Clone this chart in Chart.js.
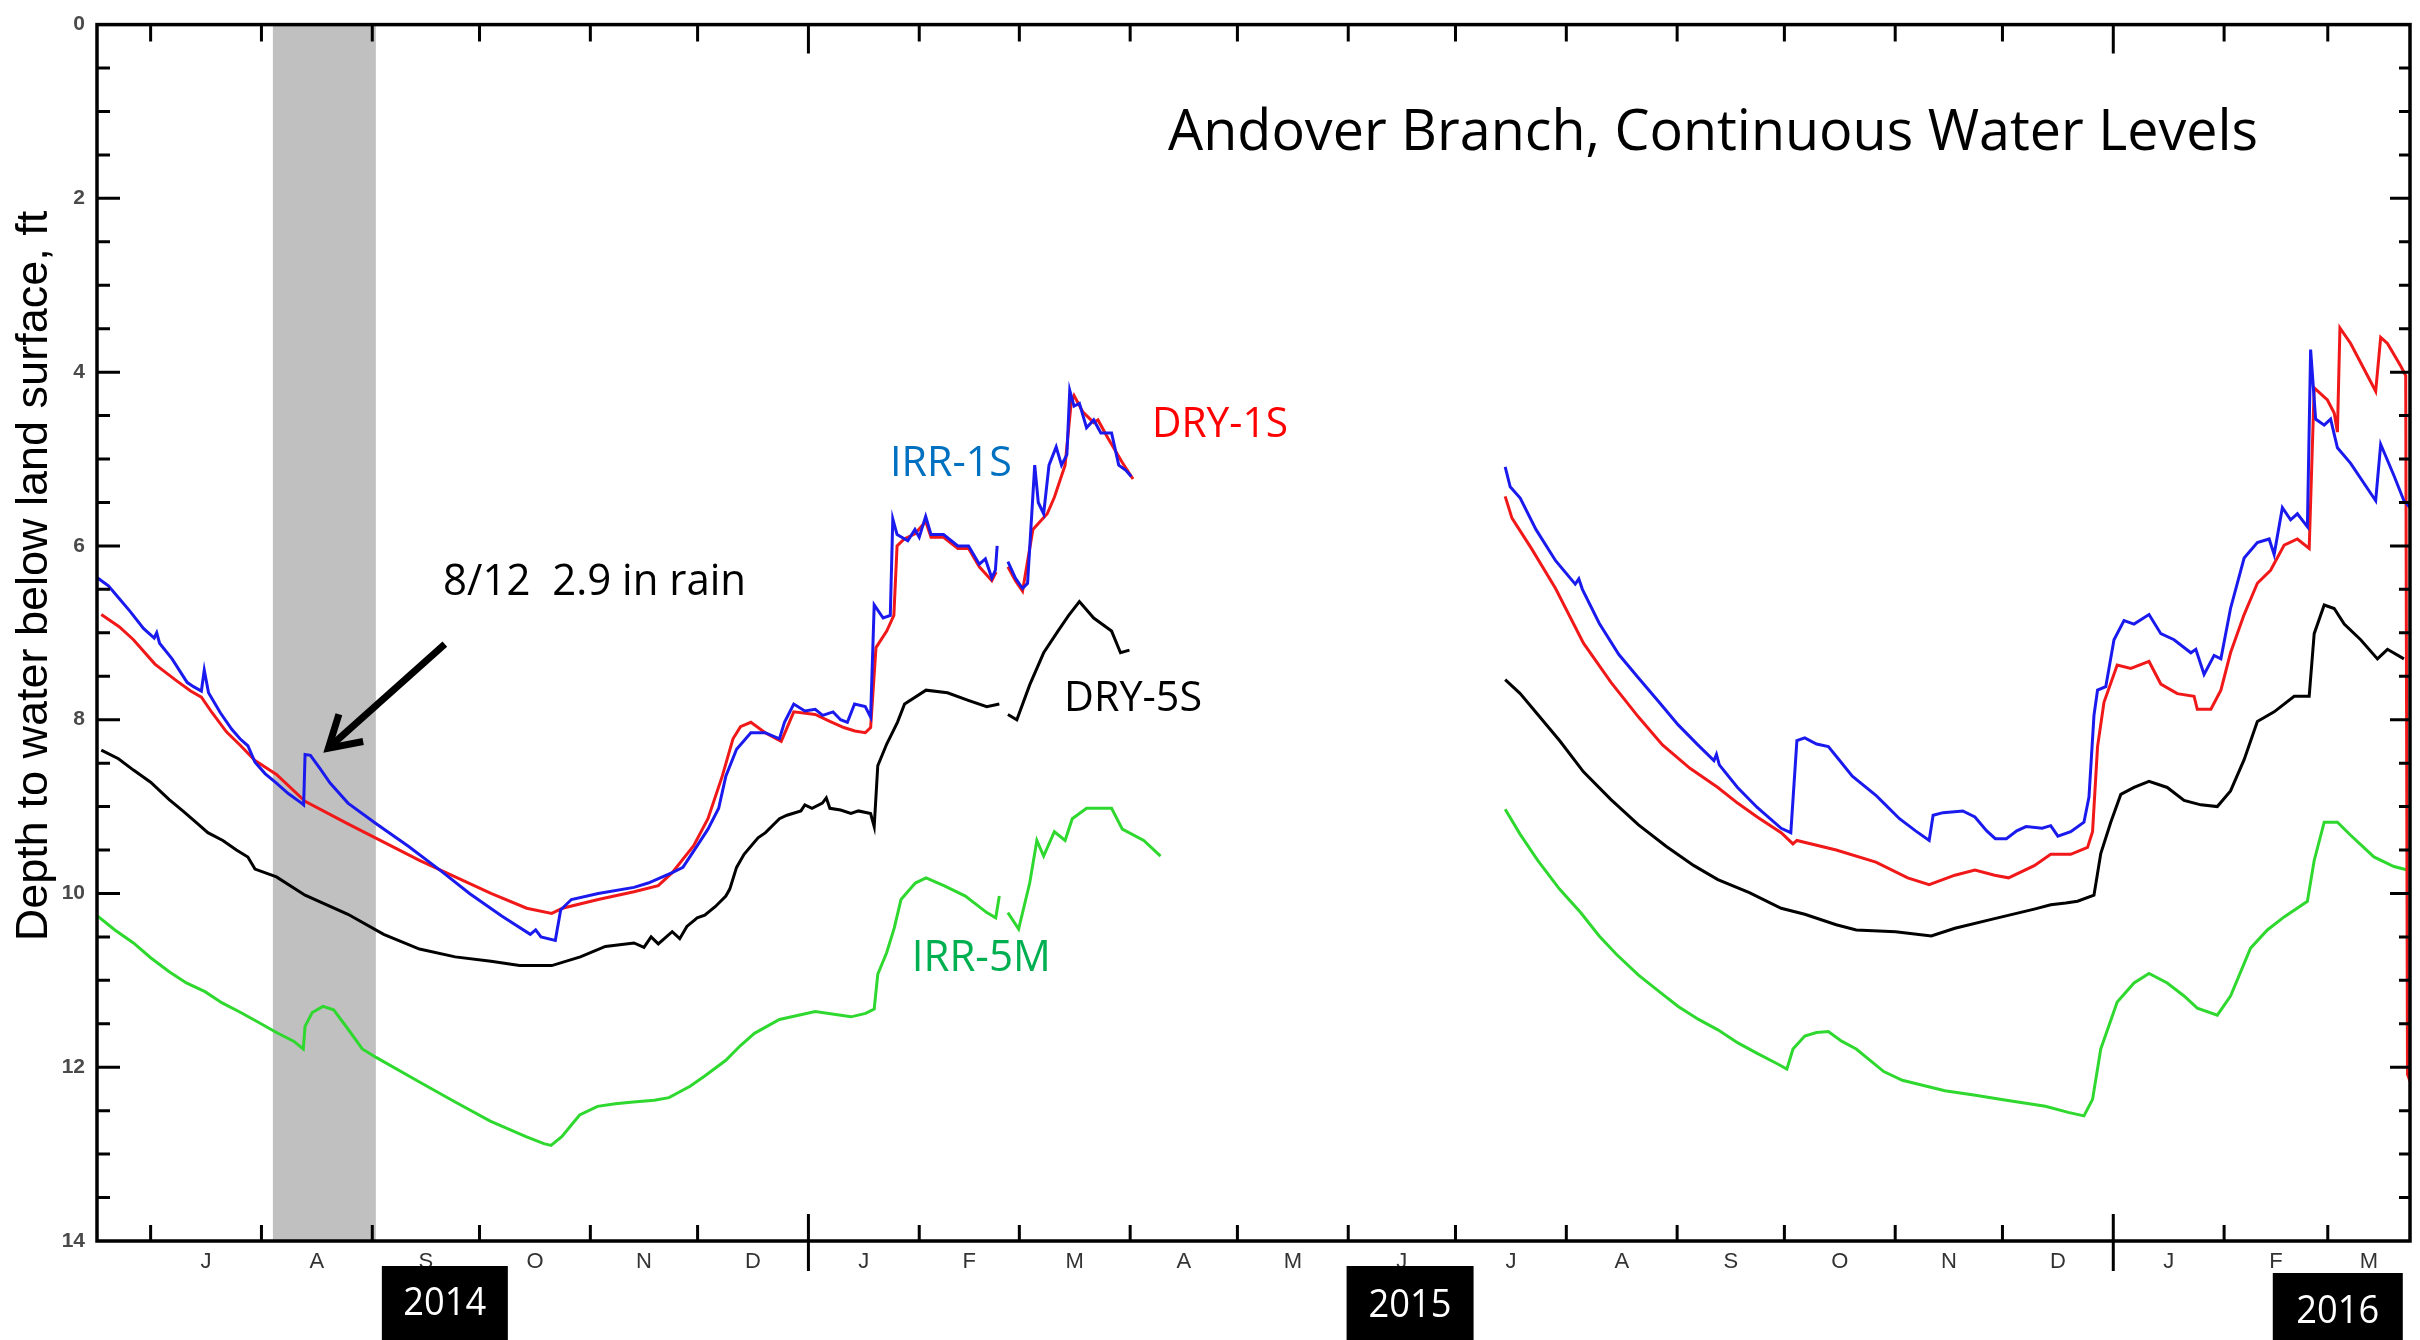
<!DOCTYPE html>
<html>
<head>
<meta charset="utf-8">
<title>Andover Branch, Continuous Water Levels</title>
<script src="https://cdn.jsdelivr.net/npm/chart.js@4.4.1/dist/chart.umd.min.js"></script>
<style>
  html, body { margin: 0; padding: 0; background: #fff; }
  canvas { display: block; }
</style>
</head>
<body>
<canvas id="kaavio" width="2420" height="1340"></canvas>
<script>
// x = days after 1 July 2014, y = depth to water (ft)

const monthStart = [0, 31, 62, 92, 123, 153, 184, 215, 243, 274, 304, 335, 365, 396, 427, 457, 488, 518, 549, 580, 609];
const yearStart = [184, 549];
const monthMid = [15.5, 46.5, 77, 107.5, 138, 168.5, 199.5, 229, 258.5, 289, 319.5, 350, 380.5, 411.5, 442, 472.5, 503, 533.5, 564.5, 594.5, 620.5];
const monthLetters = ['J', 'A', 'S', 'O', 'N', 'D', 'J', 'F', 'M', 'A', 'M', 'J', 'J', 'A', 'S', 'O', 'N', 'D', 'J', 'F', 'M'];
const yearLabels = ['2014', '2015', '2016'];
const rainBand = [34.2, 63.0];

// IRR-1S
const irr1sDay = [-14.8, -11.8, -8.5, -5.8, -2, 1, 1.7, 2.5, 6, 10.2, 12, 14.2, 15, 16.2, 19.5, 22.7, 25, 27.2, 29.2, 32, 35.2, 38.5, 42.2, 42.8, 43.2, 44.7, 47.5, 50.2, 55.2, 63.2, 72.2, 81.2, 89.2, 98.2, 106.2, 107.7, 109.2, 113.2, 114.7, 117.7, 125.2, 135.2, 139.2, 145.9, 148.9, 152.9, 155.9, 158.9, 160.9, 163.9, 167.9, 171.9, 175.9, 177.3, 179.9, 183, 185.9, 188, 190.9, 193, 194.9, 196.9, 199.9, 201.4, 202.4, 204.9, 206.9, 207.6, 208.8, 211.8, 213.8, 215, 216.8, 218.3, 221.8, 225.8, 228.8, 231.8, 233.5, 235.3, 236.3, 236.8, 238, 239.8, 241.9, 243.9, 245.3, 247.3, 248.3, 249.8, 251.3, 253.3, 254.8, 256.3, 257.1, 258.3, 259.8, 261.8, 263.8, 265.8, 268.8, 270.8, 272.8, 274.3,
  320,
  378.9, 380.3, 383.1, 387.5, 393, 398.5, 399.5, 400.5, 405.2, 410.7, 416.2, 421.8, 427.3, 432.8, 437.3, 438, 438.8, 443.9, 449.4, 456.1, 458.8, 460.5, 462.7, 466, 469.3, 471.5, 476, 482.6, 484.8, 489.2, 493.7, 497.5, 498.6, 501.4, 506.9, 510.3, 513.6, 516, 519.1, 522, 524.6, 529.1, 531.5, 533.5, 537.1, 540.8, 542.2, 543.6, 544.6, 546.9, 549.2, 552, 554.8, 559, 562.3, 566, 570.7, 572.1, 574.4, 577.2, 579.1, 581.8, 585.6, 589.3, 592.6, 594, 596.3, 598.6, 600.5, 603.3, 604.2, 605.6, 608, 609.8, 611.7, 615.4, 622.4, 623.8, 627.5, 630.3, 632.7];
const irr1sFt = [6.37, 6.46, 6.62, 6.75, 6.95, 7.06, 7.0, 7.12, 7.30, 7.57, 7.62, 7.67, 7.43, 7.69, 7.92, 8.11, 8.22, 8.30, 8.49, 8.62, 8.73, 8.85, 8.96, 8.98, 8.40, 8.41, 8.57, 8.73, 8.96, 9.20, 9.46, 9.74, 10.0, 10.26, 10.47, 10.42, 10.50, 10.54, 10.19, 10.07, 10.0, 9.93, 9.88, 9.76, 9.70, 9.45, 9.26, 9.02, 8.65, 8.34, 8.15, 8.15, 8.22, 8.03, 7.82, 7.90, 7.88, 7.95, 7.91, 8.0, 8.03, 7.82, 7.85, 7.97, 6.68, 6.83, 6.80, 5.69, 5.87, 5.94, 5.81, 5.90, 5.66, 5.87, 5.87, 6.0, 6.0, 6.21, 6.15, 6.37, 6.28, 6.0, null, 6.18, 6.37, 6.49, 6.43, 5.07, 5.50, 5.63, 5.07, 4.86, 5.07, 4.95, 4.21, 4.39, 4.36, 4.64, 4.55, 4.70, 4.70, 5.07, 5.13, 5.20,
  null,
  5.09, 5.32, 5.45, 5.81, 6.17, 6.44, 6.38, 6.50, 6.89, 7.25, 7.52, 7.79, 8.06, 8.29, 8.47, 8.40, 8.52, 8.78, 9.01, 9.25, 9.30, 8.24, 8.21, 8.28, 8.31, 8.42, 8.65, 8.87, 8.96, 9.14, 9.28, 9.39, 9.10, 9.07, 9.05, 9.12, 9.28, 9.37, 9.37, 9.28, 9.23, 9.25, 9.22, 9.34, 9.29, 9.18, 8.89, 7.95, 7.66, 7.62, 7.08, 6.86, 6.90, 6.79, 7.01, 7.08, 7.23, 7.19, 7.48, 7.26, 7.30, 6.72, 6.14, 5.96, 5.92, 6.10, 5.56, 5.70, 5.63, 5.78, 3.74, 4.54, 4.61, 4.54, 4.87, 5.05, 5.48, 4.83, 5.19, 5.48, 5.59];

// DRY-1S
const dry1sDay = [-13.8, -8.8, -4.8, 1.2, 4, 7.2, 11.2, 14.2, 17.2, 21.2, 25.2, 29.2, 35.2, 43.2, 55.2, 65.2, 75.2, 85.2, 95.2, 105.2, 112.2, 115.2, 125.2, 135.2, 142, 145.9, 151.9, 155.9, 159.9, 162.9, 165, 167.9, 171.9, 176.4, 179.9, 185.9, 190, 193.9, 197, 199.9, 201.4, 202.9, 205.9, 207.9, 208.8, 210.8, 213.8, 216.8, 218.3, 221.8, 225.8, 228.8, 231.8, 235.3, 236.5, 238, 239.8, 241.9, 243.9, 246.8, 250.8, 252.8, 255.8, 257.5, 258.3, 260.8, 263.8, 265, 267.8, 271.8, 274.8,
  320,
  378.9, 380.8, 386.4, 393, 400.8, 408.5, 416.2, 422.9, 430.6, 438.4, 443.9, 449.4, 456.1, 459.4, 460.5, 471.5, 482.6, 491.5, 497.5, 504.7, 510.3, 515.8, 519.7, 526.9, 531.5, 537.1, 541.8, 543.2, 544.6, 546.4, 550.1, 553.9, 559, 562.3, 566.9, 571.6, 572.5, 576.3, 579.1, 581.8, 585.6, 589.3, 593, 596.8, 600.5, 603.8, 605.2, 608.9, 610.8, 611.7, 612.4, 615.4, 622.4, 623.8, 625.7, 629.4, 630.8, 631.3, 632];
const dry1sFt = [6.79, 6.93, 7.08, 7.36, 7.45, 7.55, 7.67, 7.74, 7.92, 8.14, 8.30, 8.47, 8.63, 8.94, 9.20, 9.41, 9.62, 9.81, 10.0, 10.17, 10.23, 10.17, 10.07, 9.98, 9.91, 9.76, 9.45, 9.14, 8.65, 8.22, 8.08, 8.03, 8.15, 8.25, 7.91, 7.94, 8.02, 8.09, 8.13, 8.15, 8.09, 7.17, 6.98, 6.80, 6.0, 5.92, 5.86, 5.72, 5.90, 5.90, 6.03, 6.03, 6.24, 6.40, 6.30, null, 6.24, 6.40, 6.52, 5.81, 5.63, 5.44, 5.07, 4.35, 4.27, 4.46, 4.58, 4.55, 4.76, 5.04, 5.23,
  null,
  5.43, 5.68, 6.04, 6.49, 7.12, 7.57, 7.97, 8.29, 8.56, 8.78, 8.96, 9.12, 9.30, 9.43, 9.39, 9.50, 9.64, 9.82, 9.90, 9.79, 9.73, 9.79, 9.82, 9.68, 9.55, 9.55, 9.47, 9.29, 8.31, 7.80, 7.37, 7.41, 7.33, 7.59, 7.70, 7.73, 7.88, 7.88, 7.66, 7.23, 6.79, 6.43, 6.28, 5.99, 5.92, 6.03, 4.18, 4.32, 4.47, 4.69, 3.49, 3.67, 4.22, 3.60, 3.67, 3.93, 4.04, 12.08, 12.16];

// DRY-5S
const dry5sDay = [-13.8, -9, -4.8, 0, 5.2, 9, 13.2, 16, 20.2, 24, 27.2, 29.2, 35.2, 43.2, 55.2, 65.2, 75.2, 85.2, 95.2, 103.2, 112.2, 120.2, 127.2, 135.2, 138, 140, 142, 145.9, 148, 150, 152.9, 155, 158, 160.9, 162, 163.9, 166, 169.9, 172, 175.9, 178, 181.9, 183, 185, 187.9, 189, 190, 193, 195.9, 198, 201.4, 202.4, 203.4, 205.9, 208.9, 210.9, 216.9, 222.9, 228.9, 233.9, 237.4, 238.5, 239.8, 242.3, 245.9, 249.8, 253.8, 256.8, 259.8, 263.8, 268.8, 271.3, 273.8,
  320,
  378.9, 383.1, 388.6, 394.1, 400.8, 408.5, 416.2, 424, 431.7, 438.4, 447.2, 456.1, 462.7, 471.5, 477.1, 488.1, 498.1, 504.7, 515.8, 526.9, 531.5, 535.7, 539, 543.6, 545.5, 548.3, 551.1, 554.8, 559, 564.1, 568.8, 573.5, 578.1, 581.8, 585.6, 589.3, 594, 599.6, 603.8, 605.2, 608, 610.8, 613.6, 618.2, 622.9, 625.7, 630.3];
const dry5sFt = [8.35, 8.45, 8.58, 8.72, 8.92, 9.05, 9.20, 9.30, 9.39, 9.50, 9.58, 9.72, 9.81, 10.02, 10.24, 10.47, 10.64, 10.73, 10.78, 10.83, 10.83, 10.73, 10.61, 10.57, 10.62, 10.50, 10.58, 10.44, 10.52, 10.38, 10.28, 10.25, 10.15, 10.03, 9.95, 9.70, 9.55, 9.36, 9.30, 9.14, 9.10, 9.05, 8.98, 9.02, 8.96, 8.90, 9.02, 9.04, 9.08, 9.05, 9.08, 9.23, 8.53, 8.28, 8.03, 7.82, 7.66, 7.69, 7.78, 7.85, 7.82, null, 7.94, 8.0, 7.60, 7.23, 6.98, 6.80, 6.64, 6.83, 6.98, 7.23, 7.20,
  null,
  7.54, 7.70, 7.97, 8.24, 8.60, 8.92, 9.21, 9.46, 9.68, 9.84, 9.99, 10.17, 10.24, 10.36, 10.42, 10.44, 10.49, 10.40, 10.29, 10.18, 10.13, 10.11, 10.09, 10.02, 9.54, 9.18, 8.86, 8.78, 8.71, 8.78, 8.93, 8.98, 9.0, 8.82, 8.46, 8.02, 7.91, 7.73, 7.73, 7.01, 6.68, 6.72, 6.90, 7.08, 7.30, 7.19, 7.30];

// IRR-5M
const irr5mDay = [-14.8, -10, -4.8, 0, 5.2, 10, 15.2, 20, 25.2, 30, 35.2, 40, 42.7, 43.2, 45.2, 48.2, 51.2, 55.2, 59.2, 63.2, 75.2, 85.2, 95, 105, 110, 112, 115, 120, 125, 130, 135, 140.9, 145, 150.9, 155, 160.9, 165, 168.9, 175.9, 185.9, 195.9, 200, 202.4, 203.4, 205.9, 208, 209.9, 213.9, 216.9, 221.9, 227.9, 233.9, 236.4, 237.4, 238.5, 239.8, 242.8, 245.9, 247.9, 249.8, 252.8, 255.8, 257.8, 261.8, 264.8, 268.8, 271.8, 277.8, 282.5,
  320,
  378.9, 383.1, 388, 394.1, 400, 405.2, 410, 416.2, 422, 427.3, 433, 438.4, 444, 449.4, 455, 457.7, 459.4, 462.7, 466, 469.3, 473, 477.1, 484.8, 490, 501.9, 510, 519.1, 530, 536.4, 540.8, 543.2, 545.5, 550.1, 554.8, 559, 564.1, 568.8, 572.5, 578.1, 581.8, 587.4, 592.1, 596.8, 603.3, 605.2, 608, 611.7, 615.4, 621.9, 627.5, 631.3];
const irr5mFt = [10.26, 10.42, 10.57, 10.74, 10.90, 11.03, 11.13, 11.26, 11.37, 11.48, 11.60, 11.70, 11.79, 11.53, 11.37, 11.30, 11.34, 11.56, 11.79, 11.89, 12.17, 12.40, 12.62, 12.80, 12.88, 12.90, 12.80, 12.55, 12.45, 12.42, 12.40, 12.38, 12.35, 12.22, 12.10, 11.92, 11.75, 11.61, 11.45, 11.36, 11.42, 11.38, 11.33, 10.93, 10.68, 10.40, 10.07, 9.88, 9.82, 9.91, 10.03, 10.22, 10.28, 10.03, null, 10.22, 10.41, 9.88, 9.39, 9.57, 9.29, 9.39, 9.14, 9.02, 9.02, 9.02, 9.26, 9.39, 9.57,
  null,
  9.03, 9.32, 9.62, 9.95, 10.22, 10.49, 10.70, 10.94, 11.13, 11.30, 11.45, 11.57, 11.72, 11.84, 11.96, 12.02, 11.79, 11.64, 11.60, 11.59, 11.70, 11.79, 12.05, 12.15, 12.27, 12.32, 12.38, 12.45, 12.52, 12.56, 12.37, 11.79, 11.25, 11.03, 10.92, 11.03, 11.18, 11.32, 11.40, 11.18, 10.63, 10.42, 10.27, 10.09, 9.62, 9.18, 9.18, 9.33, 9.58, 9.69, 9.73];

function pisteet(paivat, arvot) {
  return paivat.map((d, i) => ({ x: d, y: arvot[i] }));
}

// teksti venytetään annettuun leveyteen (Calibri puuttuu)
function sovitaTeksti(ctx, teksti, x, y, leveys, korkeus, vari, tasaus) {
  const koko = korkeus / 0.714;
  ctx.save();
  ctx.font = koko + 'px "Open Sans"';
  ctx.fillStyle = vari;
  ctx.textBaseline = 'alphabetic';
  ctx.textAlign = 'left';
  const w = ctx.measureText(teksti).width;
  const sx = leveys / w;
  const x0 = tasaus === 'center' ? x - leveys / 2 : x;
  ctx.translate(x0, y);
  ctx.scale(sx, 1);
  ctx.fillText(teksti, 0, 0);
  ctx.restore();
}

const koristeet = {
  id: 'koristeet',
  beforeDatasetsDraw(chart) {
    const { ctx, chartArea: a, scales: { x } } = chart;
    const x0 = x.getPixelForValue(rainBand[0]);
    const x1 = x.getPixelForValue(rainBand[1]);
    ctx.save();
    ctx.fillStyle = '#c0c0c0';
    ctx.fillRect(x0, a.top, x1 - x0, a.bottom - a.top);
    ctx.restore();
  },
  afterDatasetsDraw(chart) {
    const { ctx, chartArea: a, scales: { x, y } } = chart;
    ctx.save();
    ctx.strokeStyle = '#000';
    ctx.lineWidth = 3;
    ctx.beginPath();
    for (let v = 0.5; v < 14; v += 0.5) {
      const py = y.getPixelForValue(v);
      const iso = v % 2 === 0;
      ctx.moveTo(a.left, py); ctx.lineTo(a.left + (iso ? 23 : 13), py);
      ctx.moveTo(a.right, py); ctx.lineTo(a.right - (iso ? 20 : 11), py);
    }
    monthStart.forEach(d => {
      const px = x.getPixelForValue(d);
      const vuosi = yearStart.includes(d);
      ctx.moveTo(px, a.bottom + (vuosi ? 30 : 0)); ctx.lineTo(px, a.bottom - (vuosi ? 27 : 16));
      ctx.moveTo(px, a.top); ctx.lineTo(px, a.top + (vuosi ? 29 : 17));
    });
    ctx.stroke();
    ctx.lineWidth = 3.5;
    ctx.strokeRect(a.left, a.top, a.right - a.left, a.bottom - a.top);

    // nuoli sadetapahtumaan
    const tx = x.getPixelForValue(82.3), ty = y.getPixelForValue(7.13);
    const kx = x.getPixelForValue(49.1), ky = y.getPixelForValue(8.35);
    const kulma = Math.atan2(ty - ky, tx - kx);
    ctx.lineWidth = 7;
    ctx.lineCap = 'butt';
    ctx.beginPath();
    ctx.moveTo(tx, ty); ctx.lineTo(kx + 4 * Math.cos(kulma), ky + 4 * Math.sin(kulma));
    ctx.stroke();
    ctx.lineJoin = 'miter';
    ctx.beginPath();
    ctx.moveTo(kx + 38 * Math.cos(kulma - 0.5), ky + 38 * Math.sin(kulma - 0.5));
    ctx.lineTo(kx + 3 * Math.cos(kulma), ky + 3 * Math.sin(kulma));
    ctx.lineTo(kx + 38 * Math.cos(kulma + 0.5), ky + 38 * Math.sin(kulma + 0.5));
    ctx.stroke();
    ctx.restore();

    sovitaTeksti(ctx, 'Andover Branch, Continuous Water Levels', x.getPixelForValue(284.6), y.getPixelForValue(1.444), 1090, 40, '#000');
    sovitaTeksti(ctx, 'IRR-1S', x.getPixelForValue(206.8), y.getPixelForValue(5.197), 122, 30, '#0070c0');
    sovitaTeksti(ctx, 'DRY-1S', x.getPixelForValue(280.1), y.getPixelForValue(4.742), 136, 30, '#ff0000');
    sovitaTeksti(ctx, 'DRY-5S', x.getPixelForValue(255.5), y.getPixelForValue(7.904), 138, 30, '#000');
    sovitaTeksti(ctx, 'IRR-5M', x.getPixelForValue(212.9), y.getPixelForValue(10.895), 139, 31, '#00b050');
    sovitaTeksti(ctx, '8/12  2.9 in rain', x.getPixelForValue(81.8), y.getPixelForValue(6.562), 303, 31, '#000');
  },
  afterDraw(chart) {
    const { ctx, scales: { x } } = chart;
    // pystyakselin otsikko
    ctx.save();
    ctx.translate(47, 576);
    ctx.rotate(-Math.PI / 2);
    ctx.font = '45px "Liberation Sans", Arial, sans-serif';
    ctx.fillStyle = '#000';
    ctx.textAlign = 'center';
    ctx.textBaseline = 'alphabetic';
    ctx.fillText('Depth to water below land surface, ft', 0, 0);
    ctx.restore();

    // vuosilaatikot
    const laatikot = [
      { keski: 82.3, yla: 1266, lev: 126, pohja: 1315 },
      { keski: 352.3, yla: 1266, lev: 127, pohja: 1317 },
      { keski: 611.8, yla: 1273, lev: 130, pohja: 1323 }
    ];
    laatikot.forEach((b, i) => {
      const cx = x.getPixelForValue(b.keski);
      ctx.fillStyle = '#000';
      ctx.fillRect(cx - b.lev / 2, b.yla, b.lev, 1340 - b.yla);
      sovitaTeksti(ctx, yearLabels[i], cx, b.pohja, 83, 27, '#fff', 'center');
    });
  }
};

const ctx = document.getElementById('kaavio');
const viiva = (nimi, paivat, arvot, vari) => ({
  label: nimi,
  data: pisteet(paivat, arvot),
  borderColor: vari,
  borderWidth: 3,
  pointRadius: 0,
  tension: 0,
  spanGaps: false,
  fill: false
});

new Chart(ctx, {
  type: 'line',
  data: {
    datasets: [
      viiva('IRR-1S', irr1sDay, irr1sFt, '#1a1aee'),
      viiva('DRY-1S', dry1sDay, dry1sFt, '#f01818'),
      viiva('DRY-5S', dry5sDay, dry5sFt, '#000000'),
      viiva('IRR-5M', irr5mDay, irr5mFt, '#2fd82f')
    ]
  },
  options: {
    responsive: false,
    animation: false,
    layout: { padding: { top: 10, right: 10, left: 0, bottom: 0 } },
    plugins: {
      legend: { display: false },
      tooltip: { enabled: false },
      title: { display: false }
    },
    scales: {
      x: {
        type: 'linear',
        min: -15,
        max: 632,
        grid: { display: false, drawTicks: false },
        border: { display: false },
        afterBuildTicks: (s) => { s.ticks = monthMid.map(v => ({ value: v })); },
        afterFit: (s) => { s.height = 99; },
        ticks: {
          autoSkip: false,
          maxRotation: 0,
          padding: 8,
          color: '#333',
          font: { family: '"Liberation Sans", Arial, sans-serif', size: 22 },
          callback: (v, i) => monthLetters[i]
        }
      },
      y: {
        reverse: true,
        min: 0,
        max: 14,
        grid: { display: false, drawTicks: false },
        border: { display: false },
        afterFit: (s) => { s.width = 97; },
        ticks: {
          stepSize: 2,
          padding: 12,
          color: '#4a4a4a',
          font: { family: '"Liberation Sans", Arial, sans-serif', size: 21, weight: 'bold' }
        }
      }
    }
  },
  plugins: [koristeet]
});
</script>
</body>
</html>
